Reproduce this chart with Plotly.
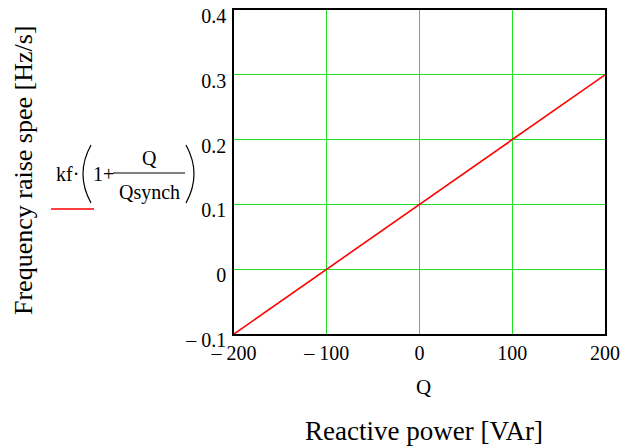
import plotly.graph_objects as go

# Data
q_values = [-200, -150, -100, -50, 0, 50, 100, 150, 200]
freq_raise = [-0.1, -0.05, 0.0, 0.05, 0.1, 0.15, 0.2, 0.25, 0.3]

x_tick_vals = [-200, -100, 0, 100, 200]
x_tick_text = ["\u2013 200", "\u2013 100", "0", "100", "200"]
y_tick_vals = [-0.1, 0, 0.1, 0.2, 0.3, 0.4]
y_tick_text = ["\u2013 0.1", "0", "0.1", "0.2", "0.3", "0.4"]

OFF = 8  # default page body margin
W, H = 628 - OFF, 448 - OFF
# plot area in page pixels
PL, PR, PT, PB = 234, 605, 10, 334
FONT = "Liberation Serif"


def px(x):
    return (x - PL) / (PR - PL)


def py(y):
    return (PB - y) / (PB - PT)


fig = go.Figure()
fig.add_trace(go.Scatter(x=q_values, y=freq_raise, mode="lines",
                         line=dict(color="#ff0000", width=1.6),
                         showlegend=False, hoverinfo="skip"))

axis_common = dict(showline=True, linecolor="black", linewidth=1.5, mirror=True,
                   showgrid=True, gridcolor="#22e022", gridwidth=1, automargin=False,
                   zeroline=False, ticks="", ticklabeloverflow="allow",
                   tickfont=dict(family=FONT, size=20, color="black"))

fig.update_xaxes(range=[-200, 200], tickvals=x_tick_vals, ticktext=x_tick_text, **axis_common)
fig.update_yaxes(range=[-0.1, 0.4], tickvals=y_tick_vals, ticktext=y_tick_text,
                 ticklabelshift=6, ticklabelstandoff=2, **axis_common)

ann = []


def text(x, y, s, size, **kw):
    ann.append(dict(x=px(x), y=py(y), xref="paper", yref="paper", text=s, showarrow=False,
                    xanchor="center", yanchor="middle",
                    font=dict(family=FONT, size=size, color="black"), **kw))


text(23, 170, "Frequency raise spee [Hz/s]", 26, textangle=-90)
text(423, 387, "Q", 21)
text(424, 431, "Reactive power [VAr]", 27)
# legend formula
text(67, 174, "kf\u00b7", 20)
text(103, 174, "1+", 20)
text(149, 158, "Q", 20)
text(149, 192, "Qsynch", 20)

shapes = []
shapes.append(dict(type="line", xref="paper", yref="paper", x0=px(113), x1=px(185), y0=py(173), y1=py(173),
                   line=dict(color="black", width=1)))
shapes.append(dict(type="path", xref="paper", yref="paper",
                   path=f"M {px(91)},{py(145)} Q {px(75)},{py(174)} {px(91)},{py(203)}",
                   line=dict(color="black", width=1.2)))
shapes.append(dict(type="path", xref="paper", yref="paper",
                   path=f"M {px(186)},{py(145)} Q {px(202)},{py(174)} {px(186)},{py(203)}",
                   line=dict(color="black", width=1.2)))
shapes.append(dict(type="line", xref="paper", yref="paper", x0=px(51), x1=px(94), y0=py(209), y1=py(209),
                   line=dict(color="#ff0000", width=1.5)))

fig.update_layout(width=W, height=H,
                  margin=dict(l=PL - OFF, r=W - (PR - OFF), t=PT - OFF, b=H - (PB - OFF), autoexpand=False),
                  plot_bgcolor="white", paper_bgcolor="white",
                  annotations=ann, shapes=shapes)

fig.write_html("out.html")
